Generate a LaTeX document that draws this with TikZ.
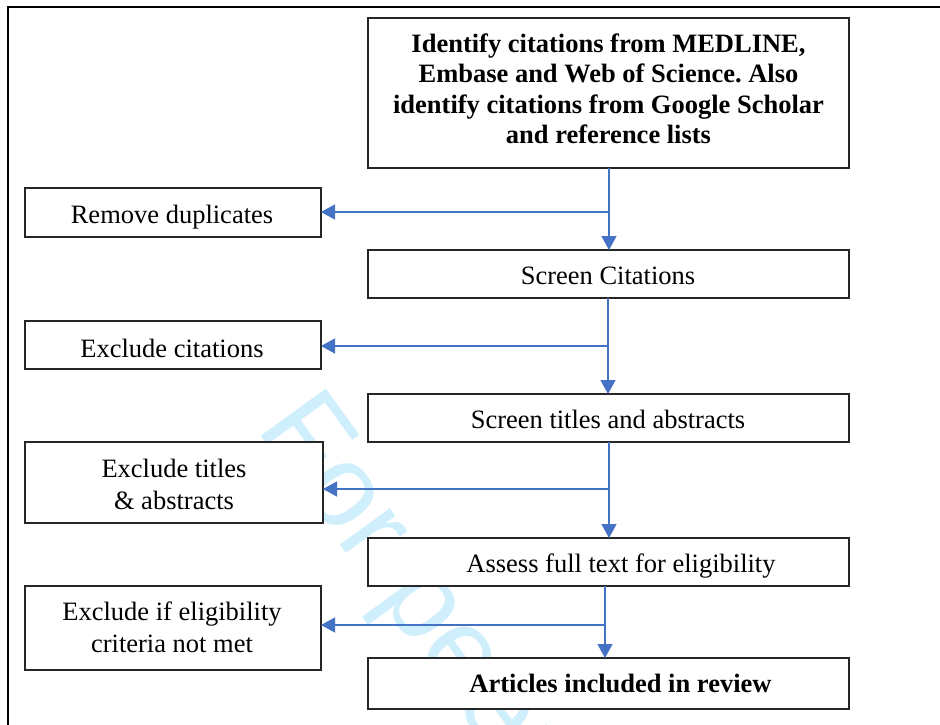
\documentclass[tikz,border=0pt]{standalone}
\usepackage{fontspec}
\setmainfont{Liberation Serif}
\newfontfamily\wmfont{Liberation Sans}
\usetikzlibrary{arrows.meta}
\definecolor{flowblue}{RGB}{68,114,196}
\definecolor{wmcyan}{RGB}{208,239,252}
\frenchspacing
\begin{document}
\begin{tikzpicture}[x=1pt,y=-1pt,
  stepbox/.style 2 args={draw=black!85, line width=1.3pt, fill=white,
     minimum width=#1, minimum height=#2, inner sep=0pt, outer sep=0pt},
  txt/.style={font=\fontsize{26.5}{30.3}\selectfont, anchor=base, inner sep=0pt, align=center},
  btxt/.style={txt, font=\fontsize{26.5}{30.3}\selectfont\bfseries},
  flow/.style={draw=flowblue, line width=1.3pt, -{Triangle[length=14pt,width=15pt]}}]
\useasboundingbox (0,0) rectangle (940,724);
\clip (0,0) rectangle (940,724);
% watermark
\node[text=wmcyan, font=\fontsize{117}{117}\wmfont, rotate=-54, anchor=base west, inner sep=0pt] (wm) at (255,428) {For peer review};
% frame
\draw[line width=1.8pt, black] (942,7.3) -- (8.3,7.3) -- (8.3,726);
% boxes
\node[stepbox={481pt}{150pt}] (top) at (608.5,93) {};
\node[stepbox={296pt}{49pt}]  (rem) at (173,212.5) {};
\node[stepbox={481pt}{48pt}]  (scr) at (608.5,274) {};
\node[stepbox={296pt}{48pt}]  (exc) at (173,345) {};
\node[stepbox={481pt}{48pt}]  (sta) at (608.5,418) {};
\node[stepbox={298pt}{81pt}]  (ext) at (174,482.5) {};
\node[stepbox={481pt}{48pt}]  (aft) at (608.5,562) {};
\node[stepbox={296pt}{84pt}]  (exe) at (173,628) {};
\node[stepbox={481pt}{51pt}]  (art) at (608.5,683.5) {};
% texts (multi-line nodes: base = last line)
\node[btxt] (toptxt) at (608.5,143.3) {Identify citations from MEDLINE,\\Embase and Web of Science. Also\\identify citations from Google Scholar\\and reference lists};
\node[txt] (remtxt) at (172,223) {Remove duplicates};
\node[txt] (scrtxt) at (608,284) {Screen Citations};
\node[txt] (exctxt) at (172,357) {Exclude citations};
\node[txt] (statxt) at (608,428) {Screen titles and abstracts};
\node[txt, font=\fontsize{26.5}{31.3}\selectfont] (exttxt) at (174,509) {Exclude titles\\\& abstracts};
\node[txt] (afttxt) at (621,572) {Assess full text for eligibility};
\node[txt, font=\fontsize{26.5}{32}\selectfont] (exetxt) at (172,652.7) {Exclude if eligibility\\criteria not met};
\node[btxt] (arttxt) at (620.5,692.7) {Articles included in review};
% connectors
\coordinate (j1) at (609,212);
\coordinate (j2) at (608,346);
\coordinate (j3) at (609,489);
\coordinate (j4) at (605,625);
\draw[flow] (top.south -| j1) -- (scr.north -| j1);
\draw[flow] (j1) -- (rem.east |- j1);
\draw[flow] (scr.south -| j2) -- (sta.north -| j2);
\draw[flow] (j2) -- (exc.east |- j2);
\draw[flow] (sta.south -| j3) -- (aft.north -| j3);
\draw[flow] (j3) -- (ext.east |- j3);
\draw[flow] (aft.south -| j4) -- (art.north -| j4);
\draw[flow] (j4) -- (exe.east |- j4);
\end{tikzpicture}
\end{document}
